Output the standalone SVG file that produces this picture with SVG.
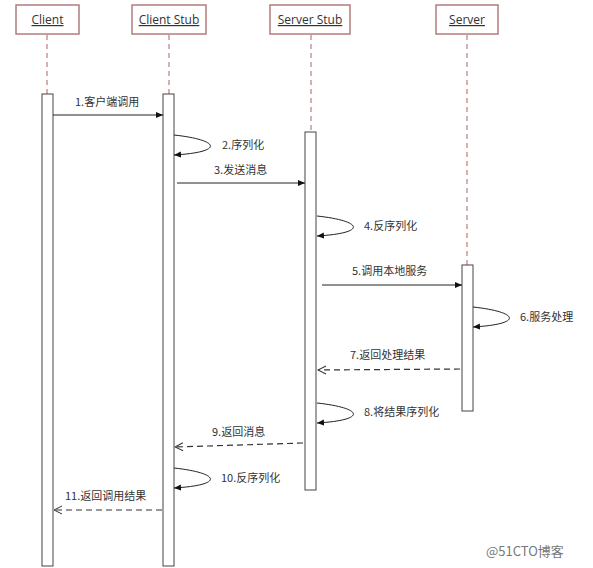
<svg xmlns="http://www.w3.org/2000/svg" width="593" height="568" viewBox="0 0 593 568">
<style>
.box{fill:#fff;stroke:#b37b7b;stroke-width:1.5}
.name{font-family:"Open Sans","Liberation Sans",sans-serif;font-size:12px;fill:#333;text-anchor:middle;text-decoration:underline}
.life{stroke:#b06060;stroke-width:1;stroke-dasharray:5,4}
.act{fill:#fff;stroke:#444;stroke-width:1}
.lbl{font-family:"Noto Sans CJK SC","Liberation Sans",sans-serif;font-size:11px;fill:#333}
.msg{stroke:#222;stroke-width:1;fill:none}
.ret{stroke:#333;stroke-width:1.2;fill:none;stroke-dasharray:6,4}
</style>
<defs>
<marker id="fa" markerWidth="8" markerHeight="8" refX="7" refY="4" orient="auto" markerUnits="userSpaceOnUse"><path d="M0,1 L7,4 L0,7 Z" fill="#111"/></marker>
<marker id="oa" markerWidth="10" markerHeight="10" refX="9" refY="5" orient="auto" markerUnits="userSpaceOnUse"><path d="M1,1 L9,5 L1,9" fill="none" stroke="#333" stroke-width="1"/></marker>
</defs>
<rect width="593" height="568" fill="#fff"/>
<g id="lifelines">
<line class="life" x1="47" y1="35" x2="47" y2="94"/>
<line class="life" x1="169" y1="35" x2="169" y2="94"/>
<line class="life" x1="311" y1="35" x2="311" y2="132"/>
<line class="life" x1="467" y1="35" x2="467" y2="265"/>
</g>
<g id="client"><rect class="box" x="16" y="5" width="63" height="29"/><text class="name" x="47.5" y="24">Client</text><rect class="act" x="42" y="94" width="11" height="472"/></g>
<g id="client-stub"><rect class="box" x="132" y="5" width="74" height="29"/><text class="name" x="169" y="24">Client Stub</text><rect class="act" x="163" y="94" width="11" height="472"/></g>
<g id="server-stub"><rect class="box" x="270" y="5" width="80" height="29"/><text class="name" x="310" y="24">Server Stub</text><rect class="act" x="305" y="132" width="11" height="358"/></g>
<g id="server"><rect class="box" x="436" y="5" width="62" height="29"/><text class="name" x="467" y="24">Server</text><rect class="act" x="462" y="265" width="11" height="146"/></g>
<g id="connectors">
<line class="msg" x1="53" y1="115" x2="163" y2="115" marker-end="url(#fa)"/>
<text class="lbl" x="75" y="106">1.客户端调用</text>
<path class="msg" d="M174,135 C220,140 225,152 174,155" marker-end="url(#fa)"/>
<text class="lbl" x="222" y="149">2.序列化</text>
<line class="msg" x1="177" y1="183" x2="305" y2="183" marker-end="url(#fa)"/>
<text class="lbl" x="214" y="174">3.发送消息</text>
<path class="msg" d="M317,216 C363,221 368,233 317,236" marker-end="url(#fa)"/>
<text class="lbl" x="364" y="230">4.反序列化</text>
<line class="msg" x1="322" y1="285" x2="462" y2="285" marker-end="url(#fa)"/>
<text class="lbl" x="352" y="275">5.调用本地服务</text>
<path class="msg" d="M473,307 C519,312 524,324 473,327" marker-end="url(#fa)"/>
<text class="lbl" x="520" y="321">6.服务处理</text>
<line class="ret" x1="460" y1="369" x2="318" y2="370" marker-end="url(#oa)"/>
<text class="lbl" x="350" y="359">7.返回处理结果</text>
<path class="msg" d="M317,403 C363,408 368,420 317,423" marker-end="url(#fa)"/>
<text class="lbl" x="364" y="416">8.将结果序列化</text>
<line class="ret" x1="303" y1="443" x2="175" y2="447" marker-end="url(#oa)"/>
<text class="lbl" x="212" y="436">9.返回消息</text>
<path class="msg" d="M174,468 C220,473 225,485 174,488" marker-end="url(#fa)"/>
<text class="lbl" x="221" y="482">10.反序列化</text>
<line class="ret" x1="162" y1="510" x2="54" y2="510" marker-end="url(#oa)"/>
<text class="lbl" x="65" y="500">11.返回调用结果</text>
</g>
<text x="486" y="556" font-family="Noto Sans CJK SC,Liberation Sans,sans-serif" font-size="13" fill="#777">@51CTO博客</text>
</svg>
